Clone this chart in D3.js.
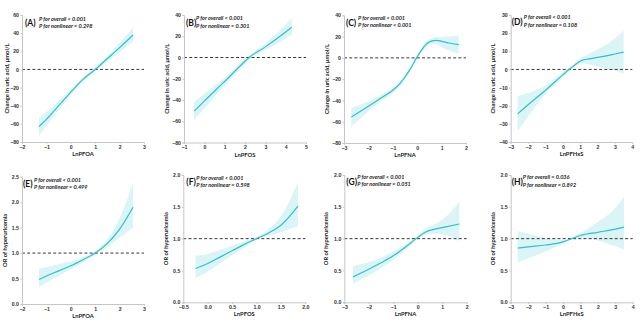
<!DOCTYPE html>
<html>
<head>
<meta charset="utf-8">
<script src="https://cdn.jsdelivr.net/npm/d3@7"></script>
<style>
  body { margin: 0; background: #fff; }
  svg { display: block; font-family: Lato, "Open Sans", sans-serif; }
  .axis path, .axis line { stroke: #c6c6c6; }
  .axis text { fill: #333; font-size: 5.2px; font-weight: bold; }
  .xlabel, .ylabel { fill: #222; font-size: 5.8px; font-weight: bold; }
  .tag { fill: #111; font-size: 8.5px; font-weight: bold; }
  .pval { fill: #222; font-size: 5.5px; font-weight: bold; font-style: italic; }
</style>
</head>
<body>
<svg width="640" height="327"></svg>
<script>
// spline fits: exposure (ln-transformed), estimate, 95% CI lower / upper
var pfoaUaX  = [-1.3, -1, -0.5, 0, 0.5, 1, 1.5, 2, 2.55];
var pfoaUaY  = [-63, -55, -40, -25, -11, 0, 12, 24, 38];
var pfoaUaLo = [-73, -62, -45, -28, -13, -2, 9, 19, 31];
var pfoaUaHi = [-53, -47, -35, -22, -9, 2, 15, 29, 46];

var pfosUaX  = [-0.5, 0, 1, 2, 2.2, 3, 4, 4.3];
var pfosUaY  = [-50.5, -41, -22.5, -3.5, 0, 10, 24, 28.5];
var pfosUaLo = [-59, -48, -26, -6, -2, 7, 18, 22];
var pfosUaHi = [-42, -34, -19, -1, 2, 13, 31, 37];

var pfnaUaX  = [-2.7, -2, -1.5, -1, -0.7, -0.5, -0.3, -0.1, 0, 0.2, 0.4, 0.6, 0.8, 1, 1.3, 1.7];
var pfnaUaY  = [-55.6, -45.5, -38, -30.5, -24, -18, -11, -3, 1, 8, 13.5, 16, 16.5, 15.5, 14, 12.5];
var pfnaUaLo = [-65, -50, -41, -33, -26.5, -20, -13, -5, -1, 5.5, 11, 13, 12.5, 10, 7, 4];
var pfnaUaHi = [-47, -41, -35, -28, -21.5, -16, -9, -1, 3, 10.5, 16, 18.5, 19.5, 19.5, 20, 21];

var pfhxsUaX  = [-2.6, -2, -1, 0, 0.3, 0.5, 0.7, 0.9, 1.1, 1.5, 2, 3, 3.5];
var pfhxsUaY  = [-24.5, -19.5, -11.5, -3, -0.5, 1, 2.5, 4, 5, 5.8, 6.6, 8.5, 9.5];
var pfhxsUaLo = [-34, -26, -13.5, -4.5, -1.5, 0, 1.5, 2.8, 3.2, 2.8, 1.5, -0.5, -2.5];
var pfhxsUaHi = [-15, -13, -9, -1.5, 0.5, 2, 3.5, 5, 6.5, 8.5, 11, 17, 21.5];

var pfoaOrX  = [-1.3, -1, -0.5, 0, 0.5, 1, 1.5, 2, 2.55];
var pfoaOrY  = [0.48, 0.55, 0.65, 0.75, 0.87, 1.0, 1.19, 1.47, 1.9];
var pfoaOrLo = [0.33, 0.42, 0.55, 0.68, 0.82, 0.97, 1.12, 1.3, 1.5];
var pfoaOrHi = [0.69, 0.72, 0.78, 0.84, 0.92, 1.03, 1.27, 1.68, 2.38];

var pfosOrX  = [-0.25, 0, 0.25, 0.5, 0.75, 1, 1.25, 1.5, 1.85];
var pfosOrY  = [0.53, 0.61, 0.71, 0.81, 0.91, 1.0, 1.09, 1.21, 1.51];
var pfosOrLo = [0.38, 0.48, 0.61, 0.74, 0.86, 0.98, 1.04, 1.1, 1.2];
var pfosOrHi = [0.73, 0.76, 0.82, 0.89, 0.96, 1.02, 1.15, 1.35, 1.89];

var pfnaOrX  = [-2.65, -2, -1.5, -1, -0.5, 0, 0.3, 0.7, 1.2, 1.7];
var pfnaOrY  = [0.40, 0.52, 0.62, 0.73, 0.87, 1.02, 1.1, 1.15, 1.19, 1.23];
var pfnaOrLo = [0.29, 0.42, 0.54, 0.67, 0.83, 0.99, 1.06, 1.08, 1.05, 0.96];
var pfnaOrHi = [0.57, 0.63, 0.7, 0.8, 0.91, 1.05, 1.15, 1.23, 1.36, 1.58];

var pfhxsOrX  = [-2.6, -2, -1, 0, 0.5, 1, 2, 3, 3.5];
var pfhxsOrY  = [0.85, 0.87, 0.9, 0.95, 1.0, 1.05, 1.1, 1.15, 1.18];
var pfhxsOrLo = [0.63, 0.69, 0.8, 0.92, 0.99, 1.01, 0.97, 0.88, 0.83];
var pfhxsOrHi = [1.12, 1.08, 1.01, 0.98, 1.01, 1.09, 1.26, 1.48, 1.66];

// labels and p values
var tags       = ["(A)", "(B)", "(C)", "(D)", "(E)", "(F)", "(G)", "(H)"];
var exposures  = ["LnPFOA", "LnPFOS", "LnPFNA", "LnPFHxS", "LnPFOA", "LnPFOS", "LnPFNA", "LnPFHxS"];
var pOverall   = ["< 0.001", "< 0.001", "< 0.001", "< 0.001", "< 0.001", "< 0.001", "< 0.001", "= 0.036"];
var pNonlinear = ["= 0.298", "= 0.301", "< 0.001", "= 0.108", "= 0.499", "= 0.598", "= 0.051", "= 0.892"];
var yTitles    = ["Change in uric acid, μmol/L", "OR of hyperuricemia"];

// axis ticks
var uaTicks80  = [-80, -60, -40, -20, 0, 20, 40, 60];
var uaTicks40  = [-80, -60, -40, -20, 0, 20, 40];
var uaTicksD   = [-40, -30, -20, -10, 0, 10, 20, 30];
var orTicks25  = [0, 0.5, 1, 1.5, 2, 2.5];
var orTicks20  = [0, 0.5, 1, 1.5, 2];
var xTicksPfoa = [-2, -1, 0, 1, 2, 3];
var xTicksPfos = [-1, 0, 1, 2, 3, 4, 5];
var xTicksPfna = [-3, -2, -1, 0, 1, 2];
var xTicksHxs  = [-3, -2, -1, 0, 1, 2, 3, 4];
var xTicksPfosOr = [-0.5, 0, 0.5, 1, 1.5, 2];

var svg = d3.select("svg");

function series(xs, ys, lo, hi) {
  return xs.map(function(x, i) { return {x: x, y: ys[i], lo: lo[i], hi: hi[i]}; });
}

// plot boxes (left, right, top, bottom) plus where the y title sits
var panels = [
  {box: [22, 144, 15, 142], yt: 7, data: series(pfoaUaX, pfoaUaY, pfoaUaLo, pfoaUaHi),
   yTicks: uaTicks80, xTicks: xTicksPfoa, ref: 0, kind: 0, fmt: d3.format("d"), xfmt: d3.format("d")},
  {box: [184, 306, 15, 142.5], yt: 167, data: series(pfosUaX, pfosUaY, pfosUaLo, pfosUaHi),
   yTicks: uaTicks40, xTicks: xTicksPfos, ref: 0, kind: 0, fmt: d3.format("d"), xfmt: d3.format("d")},
  {box: [344, 466, 15.3, 143], yt: 327, data: series(pfnaUaX, pfnaUaY, pfnaUaLo, pfnaUaHi),
   yTicks: uaTicks40, xTicks: xTicksPfna, ref: 0, kind: 0, fmt: d3.format("d"), xfmt: d3.format("d")},
  {box: [510.7, 632.3, 15, 142], yt: 493, data: series(pfhxsUaX, pfhxsUaY, pfhxsUaLo, pfhxsUaHi),
   yTicks: uaTicksD, xTicks: xTicksHxs, ref: 0, kind: 0, fmt: d3.format("d"), xfmt: d3.format("d")},
  {box: [22, 144, 176.7, 304], yt: 5, data: series(pfoaOrX, pfoaOrY, pfoaOrLo, pfoaOrHi),
   yTicks: orTicks25, xTicks: xTicksPfoa, ref: 1, kind: 1, fmt: d3.format(".1f"), xfmt: d3.format("d")},
  {box: [183.3, 305.3, 175, 302.3], yt: 166, data: series(pfosOrX, pfosOrY, pfosOrLo, pfosOrHi),
   yTicks: orTicks20, xTicks: xTicksPfosOr, ref: 1, kind: 1, fmt: d3.format(".1f"), xfmt: d3.format(".1f")},
  {box: [344.3, 466.7, 175, 302.3], yt: 326, data: series(pfnaOrX, pfnaOrY, pfnaOrLo, pfnaOrHi),
   yTicks: orTicks20, xTicks: xTicksPfna, ref: 1, kind: 1, fmt: d3.format(".1f"), xfmt: d3.format("d")},
  {box: [510.7, 632.7, 175, 302.3], yt: 493, data: series(pfhxsOrX, pfhxsOrY, pfhxsOrLo, pfhxsOrHi),
   yTicks: orTicks20, xTicks: xTicksHxs, ref: 1, kind: 1, fmt: d3.format(".1f"), xfmt: d3.format("d")}
];

// label offsets for the "(A)" tag and the two p value lines
var tagOffsets = [[3, 11, 17, 6, 13], [2, 11, 12, 5, 13], [2, 11, 14, 5, 12], [1, 10, 13, 4, 12],
                  [1, 10, 12, 5, 12], [3, 10, 13, 5, 12], [2, 10, 13, 4, 11], [1, 10, 12, 4, 12]];

panels.forEach(function(p, i) {
  var b = p.box;
  var x = d3.scaleLinear()
    .domain(d3.extent(p.xTicks))
    .range([b[0], b[1]]);
  var y = d3.scaleLinear()
    .domain(d3.extent(p.yTicks))
    .range([b[3], b[2]]);

  var g = svg.append("g").attr("class", "panel");

  // confidence band
  var band = d3.area()
    .curve(d3.curveMonotoneX)
    .x(function(d) { return x(d.x); })
    .y0(function(d) { return y(d.lo); })
    .y1(function(d) { return y(d.hi); });

  g.append("path")
    .datum(p.data)
    .attr("d", band)
    .attr("fill", "#dbf4f6");

  // null reference line
  g.append("line")
    .attr("x1", x.range()[0]).attr("x2", x.range()[1])
    .attr("y1", y(p.ref)).attr("y2", y(p.ref))
    .attr("stroke", "#222")
    .attr("stroke-width", 0.9)
    .attr("stroke-dasharray", "3,2.2");

  var line = d3.line()
    .curve(d3.curveMonotoneX)
    .x(function(d) { return x(d.x); })
    .y(function(d) { return y(d.y); });

  g.append("path")
    .datum(p.data)
    .attr("d", line)
    .attr("fill", "none")
    .attr("stroke", "#2cc3cc")
    .attr("stroke-width", 1.2);

  // axes
  g.append("g")
    .attr("class", "axis")
    .attr("transform", "translate(0," + b[3] + ")")
    .call(d3.axisBottom(x).tickValues(p.xTicks).tickFormat(p.xfmt).tickSize(1.5).tickPadding(1.5));

  g.append("g")
    .attr("class", "axis")
    .attr("transform", "translate(" + b[0] + ",0)")
    .call(d3.axisLeft(y).tickValues(p.yTicks).tickFormat(p.fmt).tickSize(1.5).tickPadding(1.5));

  g.selectAll(".axis .domain").attr("stroke", "#c6c6c6");

  // axis titles
  g.append("text")
    .attr("class", "xlabel")
    .attr("x", (b[0] + b[1]) / 2)
    .attr("y", b[3] + 14)
    .attr("text-anchor", "middle")
    .text(exposures[i]);

  g.append("text")
    .attr("class", "ylabel")
    .attr("transform", "translate(" + (p.yt + 2) + "," + ((b[2] + b[3]) / 2) + ") rotate(-90)")
    .attr("text-anchor", "middle")
    .text(yTitles[p.kind]);

  // panel tag and p values
  var o = tagOffsets[i];
  g.append("text")
    .attr("class", "tag")
    .attr("x", b[0] + o[0])
    .attr("y", b[2] + o[1])
    .text(tags[i]);

  g.append("text")
    .attr("class", "pval")
    .attr("x", b[0] + o[2])
    .attr("y", b[2] + o[3])
    .text("P for overall " + pOverall[i]);

  g.append("text")
    .attr("class", "pval")
    .attr("x", b[0] + o[2])
    .attr("y", b[2] + o[4])
    .text("P for nonlinear " + pNonlinear[i]);
});
</script>
</body>
</html>
